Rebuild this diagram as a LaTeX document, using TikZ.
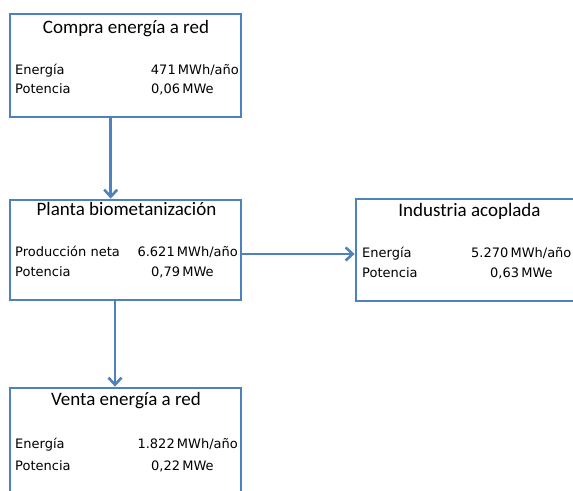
\documentclass[tikz,border=0pt]{standalone}
\usepackage{fontspec}
\setmainfont{Carlito}
\newfontfamily\datafont{DejaVu Sans}
\usetikzlibrary{arrows.meta}

\definecolor{lineablue}{HTML}{4F81BD}

\tikzset{
	caja/.style={draw=lineablue, line width=2.8pt, inner sep=0pt, minimum width=231pt},
	flecha/.style={draw=lineablue, line width=2.8pt, -{Straight Barb[length=7pt,width=13pt,line width=2.6pt]}},
	titulo/.style={anchor=base, inner sep=0pt, font=\fontsize{19}{21}\selectfont},
	dato/.style={anchor=base west, inner sep=0pt, font=\datafont\fontsize{13}{15}\selectfont},
	valor/.style={anchor=base east, inner sep=0pt, font=\datafont\fontsize{13}{15}\selectfont},
}

\begin{document}
\begin{tikzpicture}[x=1pt,y=1pt]
	\clip (0,0) rectangle (573,-490);

	% cajas
	\node[caja, minimum height=103pt] (compra) at (125.5,-65.5) {};
	\node[caja, minimum height=100pt] (planta) at (125.5,-250) {};
	\node[caja, minimum height=102pt, minimum width=240pt] (industria) at (476,-250) {};
	\node[caja, minimum height=108pt] (venta) at (125.5,-442) {};

	% compra energia a red
	\node[titulo] (tcompra) at (126,-33) {Compra energía a red};
	\node[dato] (ecompra) at (15,-74) {Energía};
	\node[valor] (vecompra) at (239,-74) {471\,MWh/año};
	\node[dato] (pcompra) at (15,-93) {Potencia};
	\node[dato] (vpcompra) at (151,-93) {0,06\,MWe};

	% planta
	\node[titulo] (tplanta) at (126.5,-215) {Planta biometanización};
	\node[dato] (eplanta) at (15,-256.5) {Producción neta};
	\node[valor] (veplanta) at (238,-256.5) {6.621\,MWh/año};
	\node[dato] (pplanta) at (15,-276.5) {Potencia};
	\node[dato] (vpplanta) at (151,-276.5) {0,79\,MWe};

	% industria acoplada
	\node[titulo] (tindustria) at (469.5,-216) {Industria acoplada};
	\node[dato] (eindustria) at (362,-257) {Energía};
	\node[dato] (veindustria) at (471,-257) {5.270\,MWh/año};
	\node[dato] (pindustria) at (362,-277) {Potencia};
	\node[dato] (vpindustria) at (490,-277) {0,63\,MWe};

	% venta energia a red
	\node[titulo] (tventa) at (126,-405) {Venta energía a red};
	\node[dato] (eventa) at (15,-448) {Energía};
	\node[valor] (veventa) at (238,-448) {1.822\,MWh/año};
	\node[dato] (pventa) at (15,-470) {Potencia};
	\node[dato] (vpventa) at (151,-470) {0,22\,MWe};

	% flujos
	\draw[flecha] ([xshift=-14.8pt]compra.south) -- ([xshift=-14.8pt]planta.north);
	\draw[flecha] ([yshift=-4pt]planta.east) -- ([yshift=-4pt]industria.west);
	\draw[flecha] ([xshift=-10.5pt]planta.south) -- ([xshift=-10.5pt]venta.north);
\end{tikzpicture}
\end{document}
